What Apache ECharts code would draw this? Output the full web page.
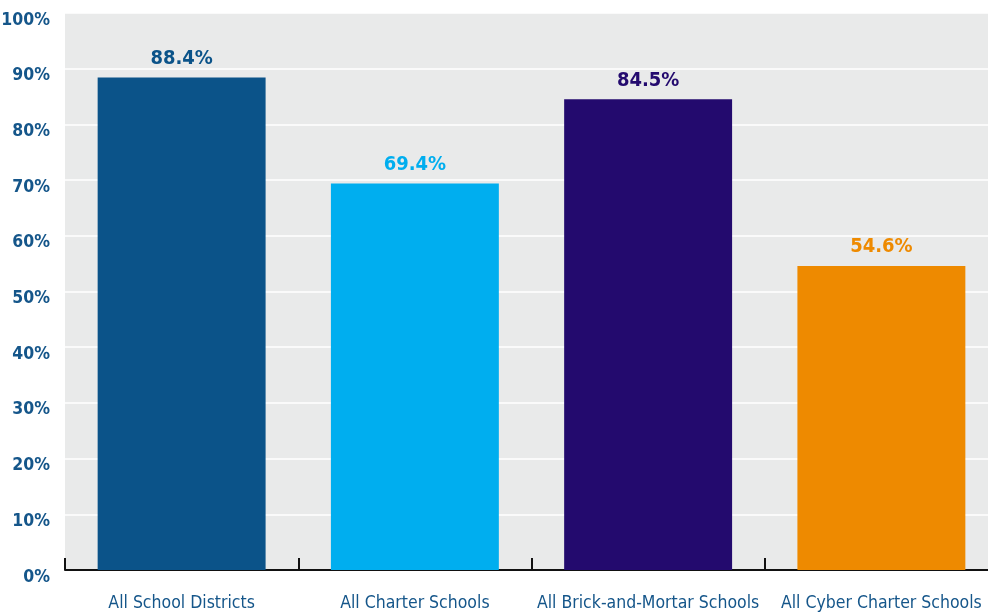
<!DOCTYPE html>
<html>
<head>
<meta charset="utf-8">
<script src="https://cdn.jsdelivr.net/npm/echarts@6/dist/echarts.min.js"></script>
<style>
  html, body { margin: 0; padding: 0; background: #ffffff; }
  #chart { width: 988px; height: 615px; }
</style>
</head>
<body>
<div id="chart"></div>
<script>
// School categories along the horizontal axis
const categories = [
  'All School Districts',
  'All Charter Schools',
  'All Brick-and-Mortar Schools',
  'All Cyber Charter Schools'
];
// Percentage for each category
const values = [88.4, 69.4, 84.5, 54.6];
// One colour per bar (labels share it)
const barColors = ['#0b5389', '#00aeef', '#230a6e', '#ee8a00'];
// Vertical axis range and step, in percent
const yMin = 0;
const yMax = 100;
const yStep = 10;

const font = '"DejaVu Sans Condensed", "Liberation Sans Narrow", "Roboto", sans-serif';
const textBlue = '#15568a';

const chart = echarts.init(document.getElementById('chart'), null, { renderer: 'canvas' });

chart.setOption({
  animation: false,
  backgroundColor: '#ffffff',
  grid: {
    left: 65,
    top: 13,
    right: -10,
    bottom: 45,
    containLabel: false,
    outerBoundsMode: 'none',
    show: true,
    backgroundColor: '#e9eaea',
    borderWidth: 0
  },
  xAxis: {
    type: 'category',
    data: categories,
    axisLine: { show: true, lineStyle: { color: '#111111', width: 2 } },
    axisTick: {
      show: true,
      inside: true,
      length: 12,
      alignWithLabel: false,
      lineStyle: { color: '#111111', width: 2 }
    },
    axisLabel: {
      color: textBlue,
      fontFamily: font,
      fontSize: 17.5,
      margin: 24,
      interval: 0
    },
    splitLine: { show: false }
  },
  yAxis: {
    type: 'value',
    min: yMin,
    max: yMax,
    interval: yStep,
    axisLine: { show: false },
    axisTick: { show: false },
    axisLabel: {
      color: textBlue,
      fontFamily: font,
      fontSize: 17.5,
      fontWeight: 'bold',
      margin: 15,
      verticalAlign: 'top',
      lineHeight: 14,
      formatter: '{value}%'
    },
    splitLine: { show: true, lineStyle: { color: '#ffffff', width: 1.5 } }
  },
  series: [{
    type: 'bar',
    barWidth: '72%',
    data: values.map((v, i) => ({
      value: v,
      itemStyle: { color: barColors[i] },
      label: { color: barColors[i] }
    })),
    label: {
      show: true,
      position: 'top',
      distance: 9,
      fontFamily: font,
      fontSize: 20,
      fontWeight: 'bold',
      formatter: p => p.value.toFixed(1) + '%'
    }
  }]
});
</script>
</body>
</html>
